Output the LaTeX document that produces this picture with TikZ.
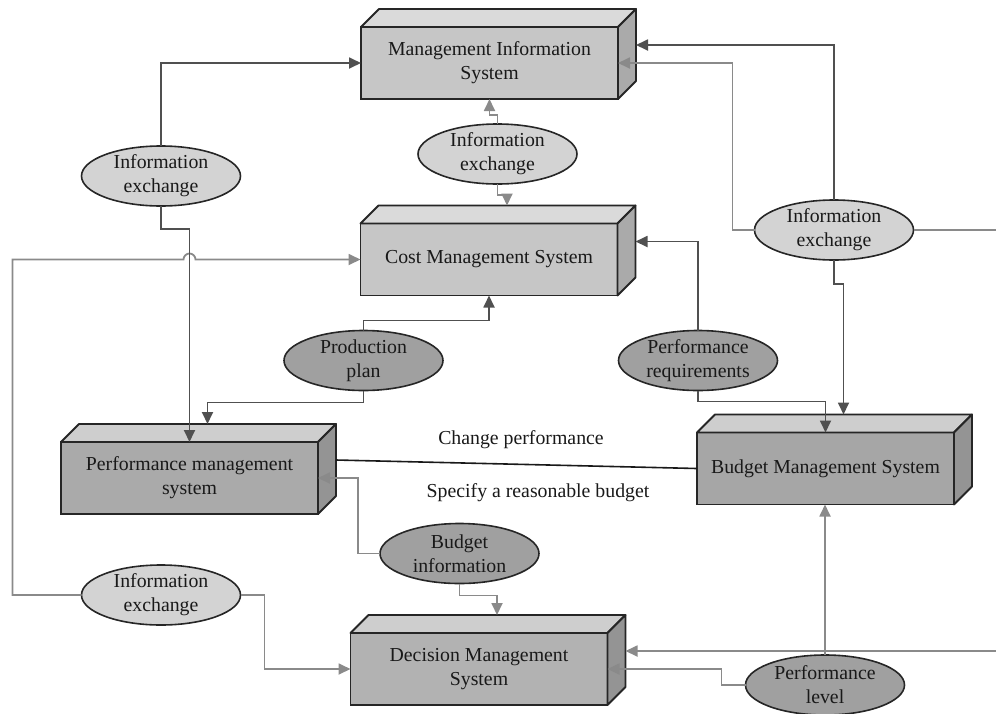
\documentclass[tikz,border=0pt]{standalone}
\usepackage{fontspec}
\setmainfont{Liberation Serif}
\usetikzlibrary{shapes.geometric,arrows.meta}

\definecolor{LineDark}{RGB}{80,80,80}
\definecolor{LineLight}{RGB}{138,138,138}
\definecolor{EllLight}{RGB}{211,211,211}
\definecolor{EllDark}{RGB}{160,160,160}
\definecolor{FrontA}{RGB}{198,198,198}
\definecolor{FrontB}{RGB}{170,170,170}
\definecolor{FrontC}{RGB}{166,166,166}
\definecolor{FrontD}{RGB}{178,178,178}
\definecolor{TopA}{RGB}{218,218,218}
\definecolor{TopB}{RGB}{206,206,206}
\definecolor{SideA}{RGB}{170,170,170}
\definecolor{SideB}{RGB}{148,148,148}

\begin{document}
\begin{tikzpicture}[
    x=1pt, y=-1pt,
    txt/.style={font=\fontsize{19.8}{24}\selectfont, text=black!90, align=center},
    sysbox/.style={txt, draw=black!85, line width=1.8pt, outer sep=0pt, minimum width=257pt, minimum height=72pt},
    face/.style={draw=black!85, line width=1.8pt, line join=round},
    ell/.style={txt, ellipse, draw=black!85, line width=1.6pt, inner sep=0pt, outer sep=0pt, minimum width=159pt, minimum height=60pt},
    dk/.style={draw=LineDark, line width=1.8pt, -{Triangle[length=12pt,width=11pt]}},
    lt/.style={draw=LineLight, line width=1.8pt, -{Triangle[length=12pt,width=11pt]}}
  ]
    \clip (0,0) rectangle (996,713);
    \useasboundingbox (0,0) rectangle (996,713);

    % systems
    \node[sysbox, fill=FrontA] (mis) at (489.5,63) {Management Information\\System};
    \node[sysbox, fill=FrontA] (cms) at (489,259.5) {Cost Management System};
    \node[sysbox, fill=FrontB] (pms) at (189.5,478) {Performance management\\system};
    \node[sysbox, fill=FrontC] (bms) at (825.5,468.5) {Budget Management System};
    \node[sysbox, fill=FrontD] (dms) at (479,669) {Decision Management\\System};

    % top and side faces
    \foreach \n/\t/\s in {mis/TopA/SideA, cms/TopA/SideA, pms/TopB/SideB, bms/TopB/SideB, dms/TopB/SideB}{
      \draw[face, fill=\t] (\n.north west) -- ([shift={(18,-18)}]\n.north west) -- ([shift={(18,-18)}]\n.north east) -- (\n.north east) -- cycle;
      \draw[face, fill=\s] (\n.north east) -- ([shift={(18,-18)}]\n.north east) -- ([shift={(18,-18)}]\n.south east) -- (\n.south east) -- cycle;
    }

    % data flows
    \node[ell, fill=EllLight] (infoA) at (161,176) {Information\\exchange};
    \node[ell, fill=EllLight] (infoB) at (497.5,154) {Information\\exchange};
    \node[ell, fill=EllLight] (infoC) at (834,230) {Information\\exchange};
    \node[ell, fill=EllLight] (infoD) at (161,595) {Information\\exchange};
    \node[ell, fill=EllDark] (prodplan) at (363.5,360.5) {Production\\plan};
    \node[ell, fill=EllDark] (perfreq) at (698,360.5) {Performance\\requirements};
    \node[ell, fill=EllDark] (budinfo) at (459.5,553.5) {Budget\\information};
    \node[ell, fill=EllDark] (perflev) at (825,685) {Performance\\level};

    \coordinate (rimA) at (996,230);
    \coordinate (rimB) at (996,651);

    % left side
    \draw[lt] (infoD.west) -- ++(-69,0) |- ([xshift=-6pt]pms.north |- cms.west)
      arc[start angle=180, end angle=0, radius=6pt] -- (cms.west);
    \draw[dk] (infoA.north) |- (mis.west);
    \draw[dk] (infoA.south) -- ++(0,23) -| (pms.north);
    \draw[lt] (infoD.east) -- ++(24,0) |- (dms.west);

    % middle
    \draw[lt] (infoB.north) -- ++(0,-9) -| (mis.south);
    \draw[lt] (infoB.south) -- ++(0,11) -| ([shift={(18,-18)}]cms.north);
    \draw[dk] (prodplan.north) -- ++(0,-10) -| (cms.south);
    \draw[dk] (prodplan.south) -- ++(0,12) -| ([shift={(18,-18)}]pms.north);
    \draw[lt] (budinfo.west) -- ++(-22,0) |- (pms.east);
    \draw[lt] (budinfo.south) -- ++(0,12) -| ([shift={(18,-18)}]dms.north);

    % right side
    \draw[dk] (infoC.north) |- ([shift={(18,-18)}]mis.east);
    \draw[lt] (infoC.west) -- ++(-22,0) |- (mis.east);
    \draw[draw=LineLight, line width=1.8pt] (infoC.east) -- (rimA);
    \draw[dk] (infoC.south) -- ++(0,24) -| ([shift={(18,-18)}]bms.north);
    \draw[dk] (perfreq.north) |- ([shift={(18,-18)}]cms.east);
    \draw[dk] (perfreq.south) -- ++(0,11) -| (bms.north);
    \draw[lt] (perflev.north) -- (perflev.north |- bms.south);
    \draw[lt] (perflev.west) -- ++(-24,0) |- (dms.east);
    \draw[lt] (rimB) -- ([shift={(18,-18)}]dms.east);

    % budget link
    \draw[line width=1.6pt, black!90] ([shift={(18,-18)}]pms.east) -- (bms.west);
    \node[txt] (chgperf) at (521,440) {Change performance};
    \node[txt] (specbud) at (538,493) {Specify a reasonable budget};
  \end{tikzpicture}
\end{document}
